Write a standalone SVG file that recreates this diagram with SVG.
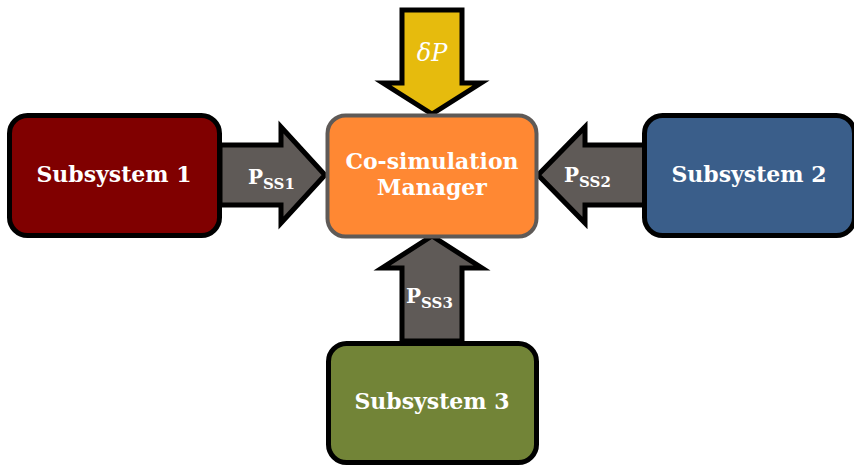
<svg xmlns="http://www.w3.org/2000/svg" width="854" height="465" viewBox="0 0 854 465">
<style>
.box{stroke:#000;stroke-width:5}
.arr{stroke:#000;stroke-width:5;stroke-linejoin:miter;fill:#5f5a57}
.t{font-family:"DejaVu Serif","Liberation Serif",serif;font-weight:bold;fill:#fff;text-anchor:middle;font-size:22px}
.lab{font-family:"DejaVu Serif","Liberation Serif",serif;font-weight:bold;fill:#fff;font-size:20px}
.sub{font-size:15px}
</style>
<rect width="854" height="465" fill="#fff"/>
<g id="connectors">
<path class="arr" d="M220,145 H281 V127 L325,175 L281,223 V205 H220 Z"/>
<path class="arr" d="M645,145 H585 V127 L538,175 L585,223 V205 H645 Z"/>
<path class="arr" style="fill:#e6bb0d" d="M402,10 H462 V83 H481 L432,114 L383,83 H402 Z"/>
<path class="arr" d="M402,341 V268 H382 L432,236 L482,268 H462 V341 Z"/>
<text class="lab" x="248" y="184">P<tspan class="sub" dy="5">SS1</tspan></text>
<text class="lab" x="564" y="182">P<tspan class="sub" dy="5">SS2</tspan></text>
<text class="lab" x="406" y="303">P<tspan class="sub" dy="5">SS3</tspan></text>
<text x="432" y="61" font-family="'DejaVu Serif','Liberation Serif',serif" font-style="italic" font-size="24" fill="#fff" text-anchor="middle">δP</text>
</g>
<g id="subsystem1">
<rect class="box" x="9.5" y="115.5" width="210" height="120" rx="18" fill="#800000"/>
<text class="t" x="114" y="182">Subsystem 1</text>
</g>
<g id="subsystem2">
<rect class="box" x="644.5" y="115.5" width="210" height="120" rx="18" fill="#3a5e8a"/>
<text class="t" x="749" y="182">Subsystem 2</text>
</g>
<g id="manager">
<rect x="327.5" y="115.5" width="209" height="121" rx="18" fill="#ff8833" stroke="#5f5a57" stroke-width="4"/>
<text class="t" x="432" y="169">Co-simulation</text>
<text class="t" x="432" y="195">Manager</text>
</g>
<g id="subsystem3">
<rect class="box" x="328.5" y="343.5" width="208" height="119" rx="18" fill="#728437"/>
<text class="t" x="432" y="409">Subsystem 3</text>
</g>
</svg>
